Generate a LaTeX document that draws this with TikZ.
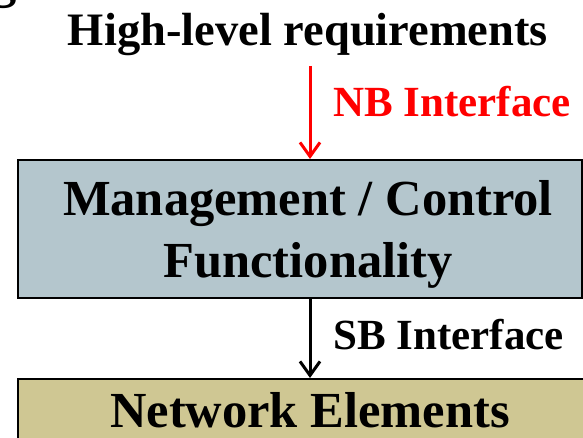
\documentclass[tikz,border=0pt]{standalone}
\usepackage{fontspec}
\setmainfont{Liberation Serif}
\usetikzlibrary{arrows.meta}
\definecolor{mgmtfill}{RGB}{180,198,205}
\definecolor{nefill}{RGB}{207,199,147}
\definecolor{nbred}{RGB}{255,0,0}
\tikzset{
  blockbox/.style={draw=black, line width=2, rectangle, inner sep=0},
  flowarrow/.style={line width=3, -{Straight Barb[length=14,width=20,line width=3]}},
  bigtext/.style={font=\bfseries\fontsize{50.5}{56}\selectfont, anchor=base, inner sep=0},
  midtext/.style={font=\bfseries\fontsize{46.5}{52}\selectfont, anchor=base, inner sep=0},
  smalltext/.style={font=\bfseries\fontsize{43}{48}\selectfont, anchor=base west, inner sep=0},
}
\begin{document}
\begin{tikzpicture}[x=1pt,y=-1pt]
\useasboundingbox (0,0) rectangle (583,438);
\clip (0,0) rectangle (583,438);

% tail of a heading letter above the frame
\node[bigtext, anchor=base west] (head) at (-9,-2) {g};

% requirements heading and northbound arrow
\node[midtext] (req) at (308,46) {High-level requirements};
\coordinate (axis) at (310,0);
\coordinate (nbtop) at (310,66);

% management / control block
\node[blockbox, fill=mgmtfill, minimum width=564, minimum height=138] (mgmt) at (300,229) {};
\node[bigtext] (mgmtA) at (308,216) {Management / Control};
\node[bigtext] (mgmtB) at (308,277) {Functionality};

% network elements block
\node[blockbox, fill=nefill, minimum width=600, minimum height=120] (ne) at (318,439) {};
\node[bigtext] (neA) at (310,427) {Network Elements};

% interfaces
\draw[flowarrow, draw=nbred] (nbtop) -- (mgmt.north -| axis);
\node[smalltext, text=nbred] (nb) at (333,117) {NB Interface};
\draw[flowarrow] (mgmt.south -| axis) -- (ne.north -| axis);
\node[smalltext] (sb) at (333,349) {SB Interface};
\end{tikzpicture}
\end{document}
